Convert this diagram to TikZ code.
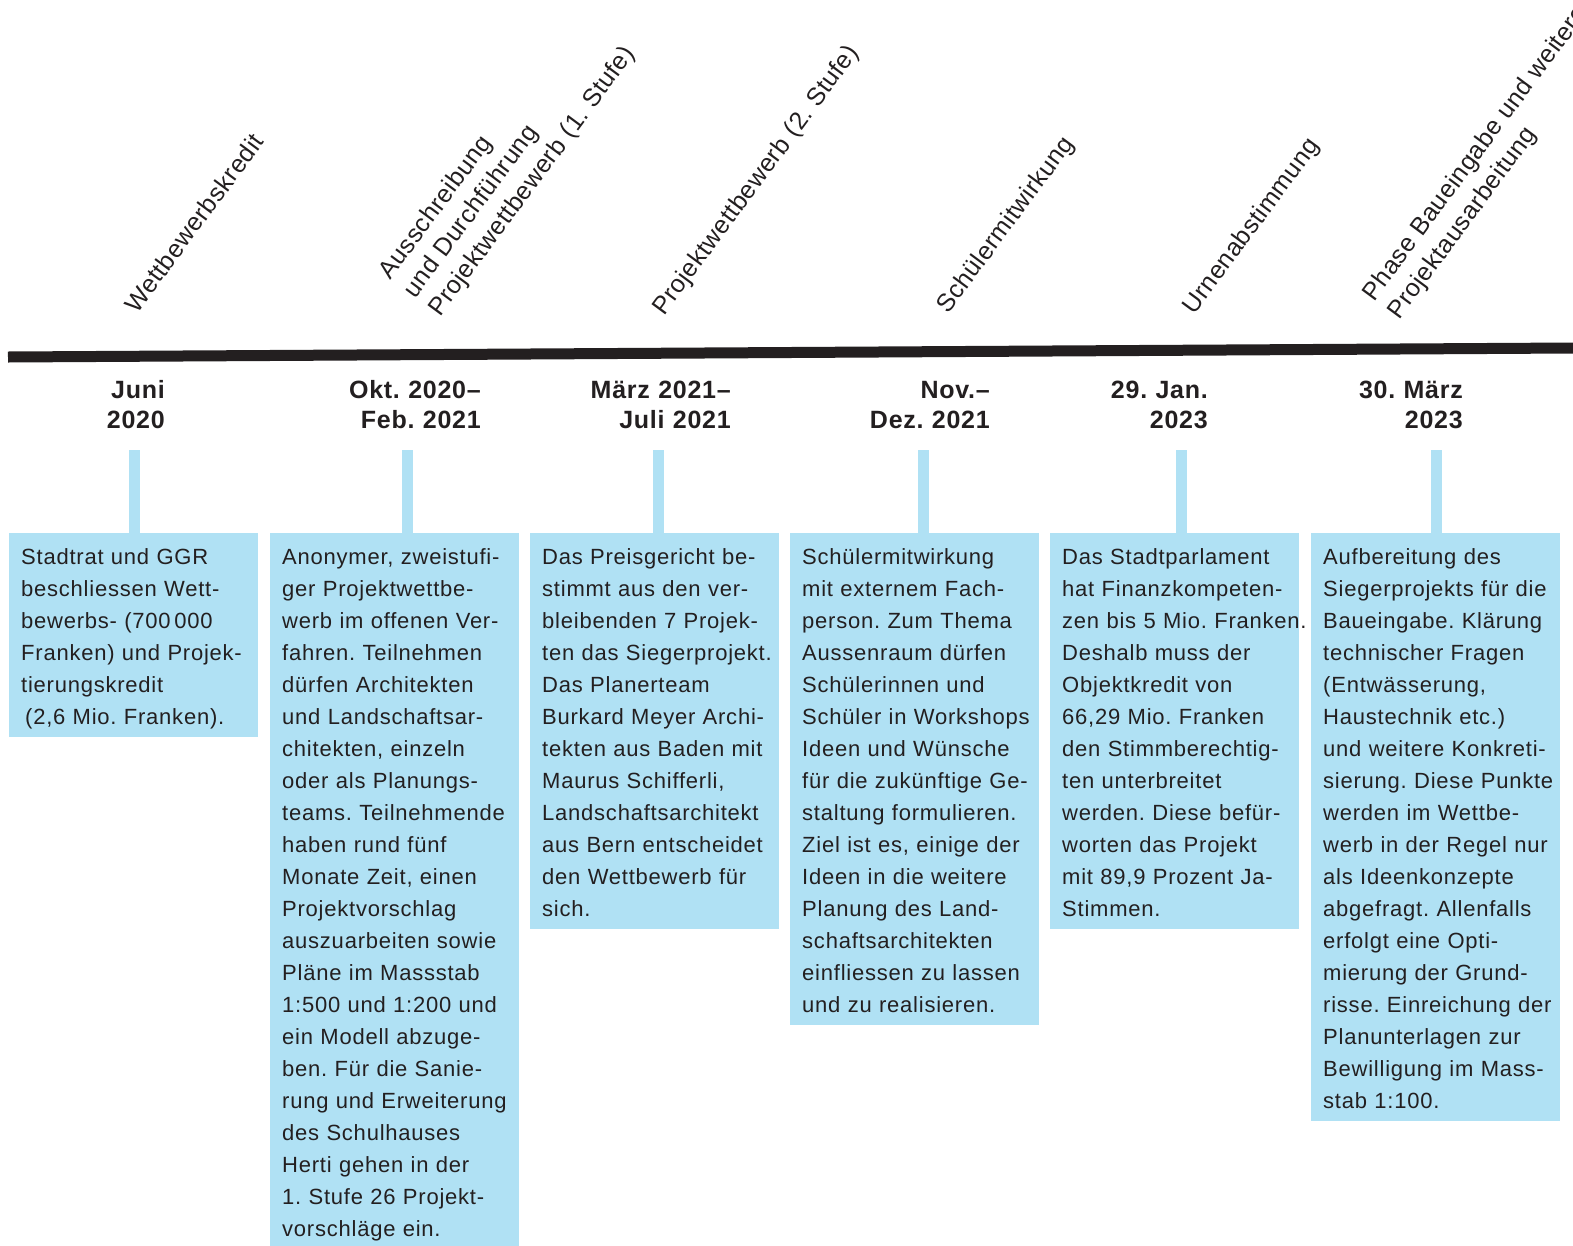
\documentclass[tikz,border=0pt]{standalone}
\usepackage{fontspec}
\setmainfont{Liberation Sans}
\newfontfamily\bodyfont{Liberation Sans}[LetterSpace=3.5]
\newfontfamily\datefont{Liberation Sans}[LetterSpace=3]
\newfontfamily\phasefont{Liberation Sans}[LetterSpace=2]
\frenchspacing

\definecolor{ink}{HTML}{231F20}
\definecolor{sky}{HTML}{B0E1F4}

\tikzset{
	textbox/.style={fill=sky, text=ink, anchor=north west, inner sep=0pt, text width=249pt, align=left,
		font=\bodyfont\fontsize{22}{32}\selectfont,
		execute at begin node={\leftskip=12pt\rightskip=-12pt plus 1fil\rule{0pt}{31pt}},
		execute at end node={\rule[-13pt]{0pt}{13pt}}},
	datelabel/.style={text=ink, anchor=north east, inner sep=0pt, text width=200pt, align=right,
		font=\datefont\bfseries\fontsize{25}{30}\selectfont,
		execute at begin node={\rule{0pt}{24pt}}},
	phaselabel/.style={text=ink, anchor=south west, inner sep=0pt, align=left, rotate=53.5,
		font=\phasefont\fontsize{25}{31}\selectfont,
		execute at end node={\rule[-7pt]{0pt}{7pt}}},
	stem/.style={draw=sky, line width=11pt}
}

\begin{document}
\begin{tikzpicture}[x=1pt, y=-1pt]
	\useasboundingbox (0,0) rectangle (1573,1245);

	% timeline
	\draw[ink, line width=11pt] (8,357) -- (1573,348);

	% phases above the line
	\node[phaselabel] (p1) at (143,319) {Wettbewerbskredit};
	\node[phaselabel] (p2) at (446,322) {Ausschreibung\\und Durchführung\\Projektwettbewerb (1.~Stufe)};
	\node[phaselabel] (p3) at (670,321) {Projektwettbewerb (2.~Stufe)};
	\node[phaselabel] (p4) at (954,319) {Schülermitwirkung};
	\node[phaselabel] (p5) at (1200,320) {Urnenabstimmung};
	\node[phaselabel] (p6) at (1405,325) {Phase Baueingabe und weitere\\Projektausarbeitung};

	% dates
	\node[datelabel] (d1) at (165,374) {Juni\\2020};
	\node[datelabel] (d2) at (481,374) {Okt. 2020–\\Feb. 2021};
	\node[datelabel] (d3) at (731,374) {März 2021–\\Juli 2021};
	\node[datelabel] (d4) at (990,374) {Nov.–\\Dez. 2021};
	\node[datelabel] (d5) at (1208,374) {29. Jan.\\2023};
	\node[datelabel] (d6) at (1463,374) {30. März\\2023};

	% text boxes
	\node[textbox] (b1) at (9,533) {Stadtrat und GGR\\beschliessen Wett-\\bewerbs- (700\,000\\Franken) und Projek-\\tierungskredit\\\hspace*{4pt}(2,6 Mio. Franken).};
	\node[textbox] (b2) at (270,533) {Anonymer, zweistufi-\\ger Projektwettbe-\\werb im offenen Ver-\\fahren. Teilnehmen\\dürfen Architekten\\und Landschaftsar-\\chitekten, einzeln\\oder als Planungs-\\teams. Teilnehmende\\haben rund fünf\\Monate Zeit, einen\\Projektvorschlag\\auszuarbeiten sowie\\Pläne im Massstab\\1:500 und 1:200 und\\ein Modell abzuge-\\ben. Für die Sanie-\\rung und Erweiterung\\des Schulhauses\\Herti gehen in der\\1. Stufe 26 Projekt-\\vorschläge ein.};
	\node[textbox] (b3) at (530,533) {Das Preisgericht be-\\stimmt aus den ver-\\bleibenden 7 Projek-\\ten das Siegerprojekt.\\Das Planerteam\\Burkard Meyer Archi-\\tekten aus Baden mit\\Maurus Schifferli,\\Landschaftsarchitekt\\aus Bern entscheidet\\den Wettbewerb für\\sich.};
	\node[textbox] (b4) at (790,533) {Schülermitwirkung\\mit externem Fach-\\person. Zum Thema\\Aussenraum dürfen\\Schülerinnen und\\Schüler in Workshops\\Ideen und Wünsche\\für die zukünftige Ge-\\staltung formulieren.\\Ziel ist es, einige der\\Ideen in die weitere\\Planung des Land-\\schaftsarchitekten\\einfliessen zu lassen\\und zu realisieren.};
	\node[textbox] (b5) at (1050,533) {Das Stadtparlament\\hat Finanzkompeten-\\zen bis 5 Mio.~Franken.\\Deshalb muss der\\Objektkredit von\\66,29 Mio. Franken\\den Stimmberechtig-\\ten unterbreitet\\werden. Diese befür-\\worten das Projekt\\mit 89,9 Prozent Ja-\\Stimmen.};
	\node[textbox] (b6) at (1311,533) {Aufbereitung des\\Siegerprojekts für die\\Baueingabe. Klärung\\technischer Fragen\\(Entwässerung,\\Haustechnik etc.)\\und weitere Konkreti-\\sierung. Diese Punkte\\werden im Wettbe-\\werb in der Regel nur\\als Ideenkonzepte\\abgefragt. Allenfalls\\erfolgt eine Opti-\\mierung der Grund-\\risse. Einreichung der\\Planunterlagen zur\\Bewilligung im Mass-\\stab 1:100.};

	% stems from dates down to the boxes
	\foreach \i/\x in {1/134.5, 2/407, 3/658, 4/923, 5/1181, 6/1436}
		\coordinate (s\i) at (\x,450);
	\foreach \i in {1,...,6}
		\draw[stem] (s\i) -- (s\i |- b\i.north);
\end{tikzpicture}
\end{document}
